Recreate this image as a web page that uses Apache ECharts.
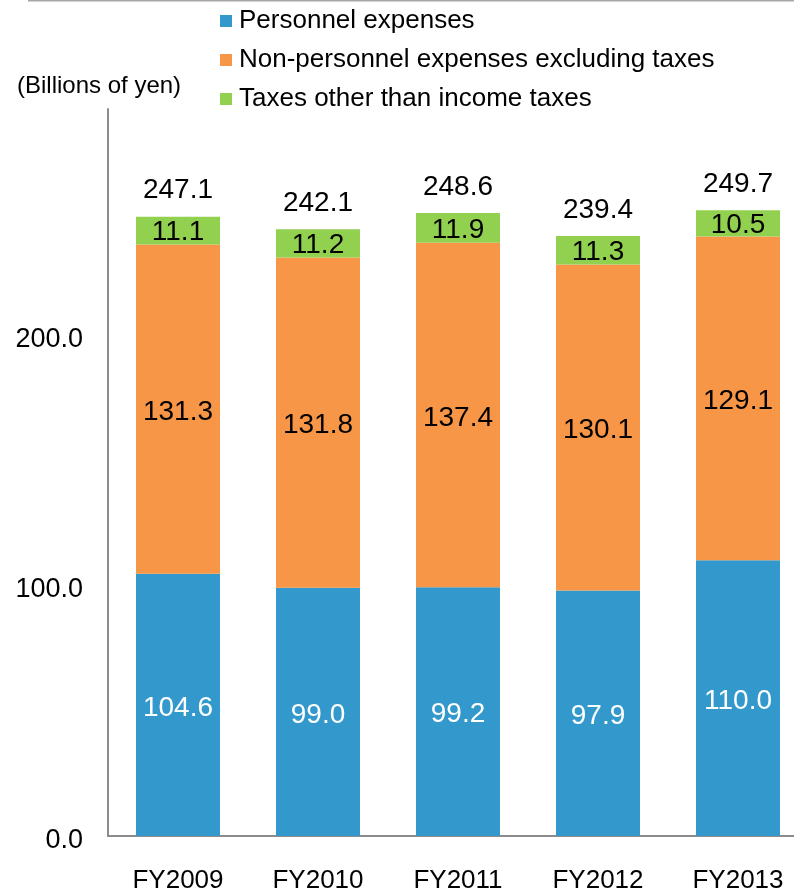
<!DOCTYPE html>
<html>
<head>
<meta charset="utf-8">
<script src="https://cdn.jsdelivr.net/npm/echarts@6/dist/echarts.min.js"></script>
<style>
html,body{margin:0;padding:0;background:#fff;overflow:hidden;}
#chart{width:810px;height:890px;}
</style>
</head>
<body>
<div id="chart"></div>
<script>
const categories = ['FY2009', 'FY2010', 'FY2011', 'FY2012', 'FY2013'];
const personnel = [104.6, 99.0, 99.2, 97.9, 110.0];
const nonPersonnel = [131.3, 131.8, 137.4, 130.1, 129.1];
const taxes = [11.1, 11.2, 11.9, 11.3, 10.5];
const totals = [247.1, 242.1, 248.6, 239.4, 249.7];
const seriesNames = ['Personnel expenses', 'Non-personnel expenses excluding taxes', 'Taxes other than income taxes'];
const yTicks = [0, 100, 200];

const FONT = '"Liberation Sans", Arial, sans-serif';
const chart = echarts.init(document.getElementById('chart'), null, {renderer: 'canvas'});

const fmt = p => Number(p.value).toFixed(1);

chart.setOption({
  animation: false,
  backgroundColor: '#ffffff',
  textStyle: {fontFamily: FONT},
  graphic: [
    {type: 'line', shape: {x1: 28, y1: 0.5, x2: 810, y2: 0.5}, style: {stroke: '#a6a6a6', lineWidth: 2}},
    {type: 'text', left: 17, top: 74, style: {text: '(Billions of yen)', font: '24px ' + FONT, fill: '#000'}}
  ],
  legend: {
    orient: 'vertical',
    left: 220,
    top: 8,
    padding: 0,
    icon: 'rect',
    itemWidth: 12,
    itemHeight: 12,
    itemGap: 13,
    data: seriesNames,
    textStyle: {fontSize: 26, lineHeight: 26, color: '#000', fontFamily: FONT, padding: [0, 0, 0, 2]}
  },
  grid: {left: 108, top: 109, width: 700, height: 727, containLabel: false, outerBoundsMode: 'none'},
  xAxis: {
    type: 'category',
    data: categories,
    axisLine: {lineStyle: {color: '#8c8c8c', width: 2}},
    axisTick: {show: false},
    axisLabel: {fontSize: 26, color: '#000', margin: 32, fontFamily: FONT}
  },
  yAxis: {
    type: 'value',
    min: 0,
    max: 290,
    interval: 100,
    axisLine: {show: true, lineStyle: {color: '#8c8c8c', width: 2}},
    axisTick: {show: false},
    splitLine: {show: false},
    axisLabel: {
      color: '#000', margin: 25, showMaxLabel: false,
      formatter: v => (yTicks.indexOf(v) >= 0 ? '{a|' + v.toFixed(1) + '}' : ''),
      rich: {a: {fontSize: 27, lineHeight: 27, color: '#000', fontFamily: FONT, padding: [9, 0, 0, 0]}}
    }
  },
  series: [
    {
      name: seriesNames[0], type: 'bar', stack: 'total', barWidth: 84,
      data: personnel,
      itemStyle: {color: '#3399cc'},
      label: {show: true, position: 'inside', offset: [0, 3], color: '#ffffff', fontSize: 28, fontFamily: FONT, formatter: fmt}
    },
    {
      name: seriesNames[1], type: 'bar', stack: 'total', barWidth: 84,
      data: nonPersonnel,
      itemStyle: {color: '#f79646'},
      label: {show: true, position: 'inside', offset: [0, 3], color: '#000000', fontSize: 28, fontFamily: FONT, formatter: fmt}
    },
    {
      name: seriesNames[2], type: 'bar', stack: 'total', barWidth: 84,
      data: taxes,
      itemStyle: {color: '#92d050'},
      label: {show: true, position: 'inside', offset: [0, 2], color: '#000000', fontSize: 28, fontFamily: FONT, formatter: fmt}
    },
    {
      name: 'Total', type: 'scatter',
      data: totals,
      symbolSize: 0,
      silent: true,
      itemStyle: {opacity: 1},
      label: {show: true, position: 'top', distance: 12, color: '#000000', opacity: 1, textBorderWidth: 0, fontSize: 28, fontFamily: FONT, formatter: fmt}
    }
  ]
});
</script>
</body>
</html>
